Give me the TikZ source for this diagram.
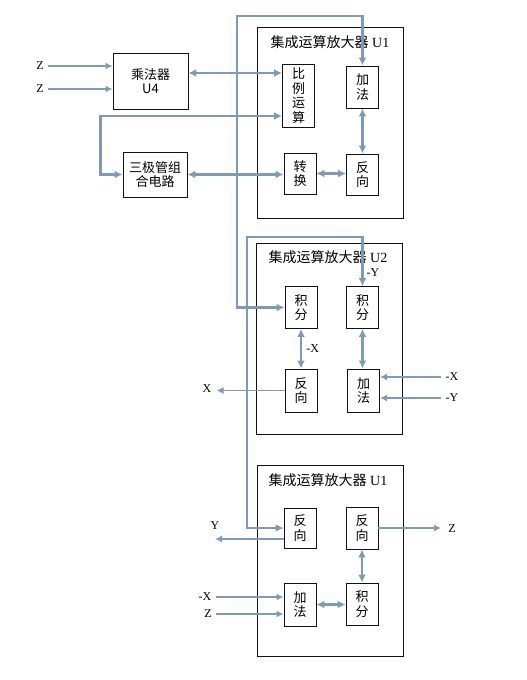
\documentclass[tikz,border=0pt]{standalone}
\usepackage{fontspec}
\setmainfont{Liberation Serif}
\newfontfamily\cjk{Noto Sans CJK SC}
\usetikzlibrary{arrows.meta,positioning,calc}
\definecolor{ink}{HTML}{111111}
\definecolor{wire}{HTML}{7D9BB7}
\tikzset{
  chip/.style={draw=ink,line width=0.9pt,minimum width=146pt,minimum height=191pt,inner sep=0pt},
  block/.style={draw=ink,line width=0.9pt,minimum width=32pt,minimum height=42pt,inner sep=0pt,align=center,font=\cjk\fontsize{13}{14.5}\selectfont},
  title/.style={font=\fontsize{14}{16}\selectfont,inner sep=0pt},
  tag/.style={font=\fontsize{12}{14}\selectfont,inner sep=1pt},
  flow/.style={-{Latex[length=8pt,width=8pt]},line width=2.6pt,draw=wire},
  biflow/.style={{Latex[length=8pt,width=8pt]}-{Latex[length=8pt,width=8pt]},line width=2.6pt,draw=wire},
  thinflow/.style={-{Latex[length=7pt,width=7pt]},line width=1.6pt,draw=wire}
}
\begin{document}
\begin{tikzpicture}[x=1pt,y=-1pt]
    \useasboundingbox (0,0) rectangle (527,680);

    \node[chip] (u1) at (330.5,122.5) {};
    \node[title] (u1t) at (330,42) {{\cjk 集成运算放大器} U1};
    \node[block,minimum width=75pt,minimum height=56pt] (mul) at (150.5,81) {乘法器\\U4};
    \node[block,minimum height=63pt] (ratio) at (298.5,95.5) {比\\例\\运\\算};
    \node[block] (addA) at (362.5,87) {加\\法};
    \node[block,minimum width=64pt,minimum height=45pt] (trio) at (155,174.5) {三极管组\\合电路};
    \node[block,minimum height=41pt] (conv) at (300,173.5) {转\\换};
    \node[block,minimum height=41pt] (invA) at (362.5,174.5) {反\\向};

    \node[chip] (u2) at (329,338.5) {};
    \node[title] (u2t) at (328,257) {{\cjk 集成运算放大器} U2};
    \node[block] (intL) at (301,307.5) {积\\分};
    \node[block] (intR) at (362.5,307.5) {积\\分};
    \node[block,minimum height=43pt] (invB) at (301,390.5) {反\\向};
    \node[block,minimum height=43pt] (addB) at (363.5,390.5) {加\\法};

    \node[chip] (u3) at (330,560.5) {};
    \node[title] (u3t) at (328,480) {{\cjk 集成运算放大器} U1};
    \node[block,minimum height=40pt] (invC) at (300,528) {反\\向};
    \node[block] (invD) at (362,528) {反\\向};
    \node[block,minimum height=43pt] (addC) at (300,604.5) {加\\法};
    \node[block] (intC) at (362,604) {积\\分};

    \node[tag] (z1) at (40,66) {Z};
    \node[tag] (z2) at (40,89) {Z};
    \node[tag] (negy) at (373,273) {-Y};
    \node[tag] (xout) at (207,389) {X};
    \node[tag] (nx) at (452,377) {-X};
    \node[tag] (ny) at (452,398) {-Y};
    \node[tag] (yout) at (215,526) {Y};
    \node[tag] (zout) at (452,529) {Z};
    \node[tag] (nx2) at (205,597) {-X};
    \node[tag] (z3) at (208,614) {Z};

    \coordinate (railA) at (237,16);
    \coordinate (railB) at (247,237);

    \draw[thinflow,shorten <=3pt] (z1.east) -- (z1.east -| mul.west);
    \draw[thinflow,shorten <=3pt] (z2.east) -- (z2.east -| mul.west);
    \draw[biflow] ([yshift=8pt]mul.east) -- ([yshift=8pt]mul.east -| ratio.west);
    \draw[biflow] ([yshift=-20.5pt]ratio.west) -| ($(trio.west)+(-22,0)$) -- (trio.west);
    \draw[biflow] (trio.east) -- (trio.east -| conv.west);
    \draw[biflow] (conv.east) -- (conv.east -| invA.west);
    \draw[biflow] (addA.south) -- (invA.north);
    \draw[biflow] (intL.west) -| (railA) -| (addA.north);
    \draw[biflow] (invC.west) -| (railB) -| (intR.north);

    \draw[biflow] (intL.south) -- node[tag,right=3pt] {-X} (invB.north);
    \draw[biflow] (intR.south) -- (intR.south |- addB.north);
    \draw[thinflow,shorten >=4pt] (invB.west) -- (invB.west -| xout.east);
    \draw[thinflow,shorten <=3pt] (nx.west) -- (nx.west -| addB.east);
    \draw[thinflow,shorten <=3pt] (ny.west) -- (ny.west -| addB.east);

    \draw[thinflow] ([yshift=-11pt]invC.west) -- ([yshift=-11pt]invC.west -| yout);
    \draw[thinflow,shorten >=6pt] (invD.east) -- (invD.east -| zout.west);
    \draw[thinflow,shorten <=3pt] (nx2.east) -- (nx2.east -| addC.west);
    \draw[thinflow,shorten <=3pt] (z3.east) -- (z3.east -| addC.west);
    \draw[biflow] (addC.east) -- (addC.east -| intC.west);
    \draw[biflow] (invD.south) -- (intC.north);
  \end{tikzpicture}
\end{document}
